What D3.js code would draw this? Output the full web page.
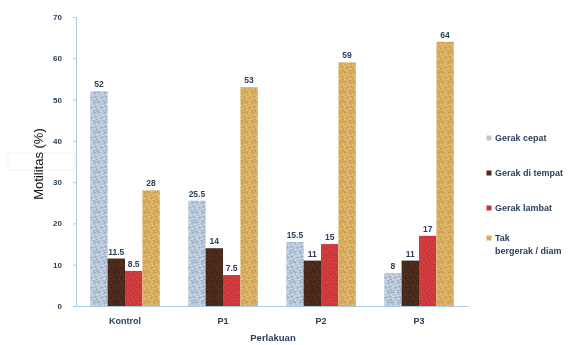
<!DOCTYPE html>
<html>
<head>
<meta charset="utf-8">
<script src="https://cdn.jsdelivr.net/npm/d3@7"></script>
<style>
  html, body { margin: 0; padding: 0; background: #fff; }
  svg { display: block; }
</style>
</head>
<body>
<svg id="chart" width="576" height="345"></svg>
<script>
// Sperm motility per treatment group
const categories = ["Kontrol", "P1", "P2", "P3"];
const seriesNames = ["Gerak cepat", "Gerak di tempat", "Gerak lambat", "Tak bergerak / diam"];
const gerakCepat = [52, 25.5, 15.5, 8];
const gerakDiTempat = [11.5, 14, 11, 11];
const gerakLambat = [8.5, 7.5, 15, 17];
const takBergerak = [28, 53, 59, 64];
const yTicks = [0, 10, 20, 30, 40, 50, 60, 70];

const seriesValues = [gerakCepat, gerakDiTempat, gerakLambat, takBergerak];
const baseColors = ["#b8c6d8", "#4b2b1c", "#c8373a", "#d6ad63"];
const speckColors = ["#6f8fb4", "#2e180e", "#e0585a", "#b98a3e"];

const svg = d3.select("#chart");
const margin = { left: 76, right: 108, top: 17, bottom: 39 };
const W = 576, H = 345;
const FONT = "Liberation Sans, Arial, sans-serif";
const INK = "#2b3f5c";

// Speckled fills for the bars (fixed dot layout so the texture is stable)
const defs = svg.append("defs");
const dotLayout = [[1,1],[4,2],[2,5],[5,6],[0,3],[3,0],[6,4],[1,7],[4,8],[7,1],[2,9],[6,9],[8,6],[9,2],[8,9]];
baseColors.forEach((c, i) => {
  const p = defs.append("pattern")
    .attr("id", "tex" + i).attr("patternUnits", "userSpaceOnUse")
    .attr("width", 10).attr("height", 10);
  p.append("rect").attr("width", 10).attr("height", 10).attr("fill", c);
  p.selectAll("rect.d").data(dotLayout).join("rect")
    .attr("class", "d").attr("x", d => d[0]).attr("y", d => d[1])
    .attr("width", 1.2).attr("height", 1.2)
    .attr("fill", (d, k) => k % 2 ? speckColors[i] : d3.color(c).brighter(0.6))
    .attr("opacity", 0.8);
});
const soft = defs.append("filter").attr("id", "soft")
  .attr("x", "-5%").attr("y", "-5%").attr("width", "110%").attr("height", "110%");
soft.append("feGaussianBlur").attr("stdDeviation", 0.55);

const x0 = d3.scaleBand().domain(categories)
  .range([margin.left, margin.left + 392]).paddingInner(0.29).paddingOuter(0.145);
const x1 = d3.scaleBand().domain(d3.range(4)).range([0, x0.bandwidth()]);
const y = d3.scaleLinear().domain([0, 70]).range([H - margin.bottom, margin.top]);

const g = svg.append("g").attr("filter", "url(#soft)");

// Bars
const groups = g.selectAll("g.cat").data(categories).join("g")
  .attr("class", "cat").attr("transform", c => `translate(${x0(c)},0)`);
groups.selectAll("rect").data((c, ci) => seriesValues.map((s, si) => ({ si, v: s[ci] })))
  .join("rect")
  .attr("x", d => x1(d.si)).attr("width", x1.bandwidth())
  .attr("y", d => y(d.v)).attr("height", d => y(0) - y(d.v))
  .attr("fill", d => `url(#tex${d.si})`);

// Value labels
groups.selectAll("text").data((c, ci) => seriesValues.map((s, si) => ({ si, v: s[ci] })))
  .join("text")
  .attr("x", d => x1(d.si) + x1.bandwidth() / 2)
  .attr("y", d => y(d.v) - 4)
  .attr("text-anchor", "middle")
  .attr("font-family", FONT)
  .attr("font-size", 8.5).attr("font-weight", "bold").attr("fill", INK)
  .text(d => d.v);

// Axes
const yAxis = d3.axisLeft(y).tickValues(yTicks).tickSize(3).tickPadding(11);
const ya = g.append("g").attr("transform", `translate(${margin.left},0)`).call(yAxis);
ya.select(".domain").attr("stroke", "#a9cbe6");
ya.selectAll(".tick line").attr("stroke", "#a9cbe6");
ya.selectAll(".tick text").attr("font-family", FONT)
  .attr("font-size", 8).attr("font-weight", "bold").attr("fill", INK);

const xAxis = d3.axisBottom(x0).tickSize(0).tickPadding(12);
const xa = g.append("g").attr("transform", `translate(0,${y(0)})`).call(xAxis);
xa.select(".domain").attr("stroke", "#a9cbe6");
xa.selectAll(".tick text").attr("font-family", FONT)
  .attr("font-size", 9).attr("font-weight", "bold").attr("fill", INK);

// X axis title
g.append("text").attr("x", 273).attr("y", 341).attr("text-anchor", "middle")
  .attr("font-family", FONT).attr("font-size", 9.5)
  .attr("font-weight", "bold").attr("fill", INK).text("Perlakuan");

// Legend
const legendY = [138, 173, 208, 238];
const legend = g.selectAll("g.leg").data(seriesNames).join("g")
  .attr("class", "leg").attr("transform", (d, i) => `translate(489,${legendY[i]})`);
legend.append("rect").attr("x", -2.5).attr("y", -2.5).attr("width", 5).attr("height", 5)
  .attr("fill", (d, i) => baseColors[i]);
legend.append("text").attr("x", 6).attr("y", 3)
  .attr("font-family", FONT).attr("font-size", 9)
  .attr("font-weight", "bold").attr("fill", INK)
  .each(function (d) {
    const t = d3.select(this);
    if (d.startsWith("Tak")) {
      t.append("tspan").attr("x", 6).text("Tak");
      t.append("tspan").attr("x", 6).attr("dy", 13).text("bergerak / diam");
    } else {
      t.text(d);
    }
  });

// Y axis title
svg.append("rect").attr("x", 8).attr("y", 153).attr("width", 67).attr("height", 17)
  .attr("fill", "#fff").attr("stroke", "#e8e8e8").attr("stroke-width", 0.6);
svg.append("text")
  .attr("transform", "translate(43,164) rotate(-90)")
  .attr("text-anchor", "middle")
  .attr("font-family", FONT).attr("font-size", 13)
  .attr("fill", "#111").text("Motilitas (%)");
</script>
</body>
</html>
